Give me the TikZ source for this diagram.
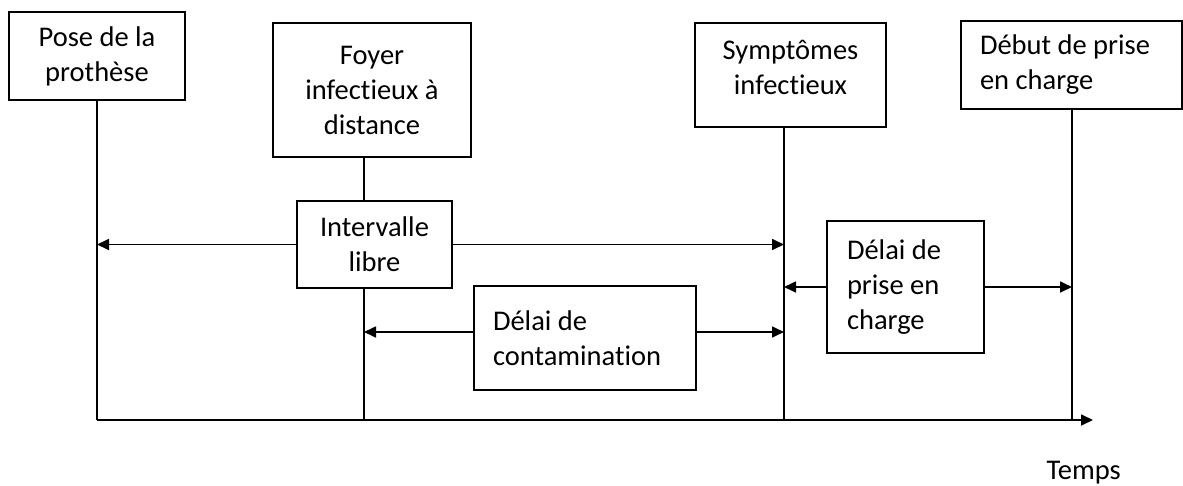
\documentclass[tikz,border=0pt]{standalone}
\usepackage{fontspec}
\setmainfont{Carlito}[Ligatures=NoCommon]
\usetikzlibrary{arrows.meta}
\tikzset{
    boite/.style={draw, line width=1.7pt, align=center, inner sep=0pt},
    trait/.style={line width=1.7pt},
    fleche/.style={line width=1.7pt, -{Triangle[length=12pt,width=11pt]}},
}
\begin{document}
\begin{tikzpicture}[x=1pt, y=-1pt, font=\fontsize{28.5}{35}\selectfont]
    \useasboundingbox (0,0) rectangle (1183,485);
    \coordinate (T1) at (97,420);
    \coordinate (T2) at (364,420);
    \coordinate (T3) at (784,420);
    \coordinate (T4) at (1072,420);
    \coordinate (Fin) at (1093,420);
    \node[boite, minimum width=176pt, minimum height=88pt] (pose) at (97,56) {Pose de la\\prothèse};
    \node[boite, minimum width=198pt, minimum height=134pt] (foyer) at (372,90) {Foyer\\infectieux à\\distance};
    \node[boite, minimum width=191pt, minimum height=104pt] (sympt) at (790.5,75) {Symptômes\\infectieux\\[-20pt]};
    \node[boite, minimum width=221pt, minimum height=88pt, text width=183pt, align=flush left] (debut) at (1071.5,65) {Début de prise\\en charge};
    \node[boite, minimum width=155pt, minimum height=87pt] (inter) at (374.5,244.5) {Intervalle\\libre};
    \node[boite, minimum width=222pt, minimum height=104pt, text width=184pt, align=flush left] (cont) at (585,338) {Délai de\\contamination};
    \node[boite, minimum width=157pt, minimum height=132pt, text width=117pt, align=flush left] (prise) at (905.5,287) {Délai de\\prise en\\charge};
    \node[anchor=base west] (temps) at (1043,479) {Temps};
    \draw[trait] (pose) -- (T1);
    \draw[trait] (foyer.south -| T2) -- (inter.north -| T2);
    \draw[trait] (inter.south -| T2) -- (T2);
    \draw[trait] (sympt.south -| T3) -- (T3);
    \draw[trait] (debut.south -| T4) -- (T4);
    \draw[fleche] (T1) -- (Fin);
    \draw[fleche] (inter.west) -- (inter.west -| T1);
    \draw[fleche] (inter.east) -- (inter.east -| T3);
    \draw[fleche] ([yshift=6pt]cont.west) -- ([yshift=6pt]cont.west -| T2);
    \draw[fleche] ([yshift=6pt]cont.east) -- ([yshift=6pt]cont.east -| T3);
    \draw[fleche] (prise.west) -- (prise.west -| T3);
    \draw[fleche] (prise.east) -- (prise.east -| T4);
\end{tikzpicture}
\end{document}
